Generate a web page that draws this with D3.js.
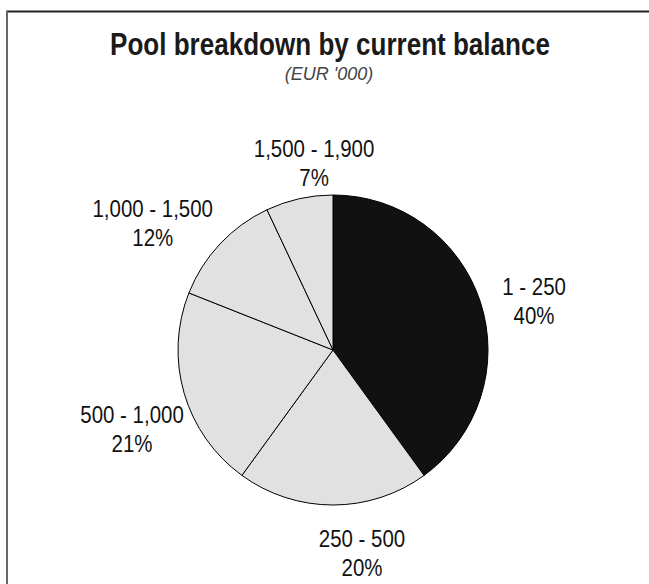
<!DOCTYPE html>
<html>
<head>
<meta charset="utf-8">
<script src="https://cdn.jsdelivr.net/npm/d3@7"></script>
<style>
  html, body { margin: 0; padding: 0; background: #fff; }
  svg { display: block; font-family: "Liberation Sans", Arial, sans-serif; }
</style>
</head>
<body>
<div id="chart"></div>
<script>
(function () {
  // Chart data
  const categories = ["1 - 250", "250 - 500", "500 - 1,000", "1,000 - 1,500", "1,500 - 1,900"];
  const shares = [40, 20, 21, 12, 7];
  const sliceColors = ["#111111", "#e1e1e1", "#e1e1e1", "#e1e1e1", "#e1e1e1"];

  const title = "Pool breakdown by current balance";
  const subtitle = "(EUR '000)";

  // label nudges (px) from the outside-centroid position, as hand-placed in the original
  const labelNudge = [[5, 15], [29, -3], [-3, 21], [-30, 14], [26, 14]];

  const width = 649, height = 584;
  const cx = 333, cy = 350, radius = 155;

  const svg = d3.select("#chart")
      .append("svg")
      .attr("width", width)
      .attr("height", height);

  // squeeze a text element to look like the condensed face of the original
  function condense(sel, factor) {
    sel.each(function () {
      const n = this.getComputedTextLength();
      d3.select(this).attr("textLength", n * factor).attr("lengthAdjust", "spacingAndGlyphs");
    });
  }

  // Frame (runs off the right and bottom edge like the original)
  svg.append("line")
      .attr("x1", 7).attr("y1", 11.5).attr("x2", width).attr("y2", 11.5)
      .attr("stroke", "#222").attr("stroke-width", 2);
  svg.append("line")
      .attr("x1", 7).attr("y1", 10.5).attr("x2", 7).attr("y2", height)
      .attr("stroke", "#666").attr("stroke-width", 2);

  // Title and subtitle
  svg.append("text")
      .attr("x", 330)
      .attr("y", 55)
      .attr("text-anchor", "middle")
      .style("font-size", "31px")
      .style("font-weight", "bold")
      .style("fill", "#1a1a1a")
      .text(title)
      .call(condense, 0.84);

  svg.append("text")
      .attr("x", 329)
      .attr("y", 80)
      .attr("text-anchor", "middle")
      .style("font-size", "18px")
      .style("font-style", "italic")
      .style("fill", "#444")
      .text(subtitle);

  const data = categories.map((c, i) => ({ name: c, value: shares[i], color: sliceColors[i], nudge: labelNudge[i] }));

  const pie = d3.pie().sort(null).value(d => d.value);
  const arc = d3.arc().innerRadius(0).outerRadius(radius);
  const labelArc = d3.arc().innerRadius(radius * 1.33).outerRadius(radius * 1.33);

  const g = svg.append("g").attr("transform", `translate(${cx},${cy})`);

  g.selectAll("path")
      .data(pie(data))
      .join("path")
      .attr("d", arc)
      .attr("fill", d => d.data.color)
      .attr("stroke", "#000")
      .attr("stroke-width", 1);

  // Labels: category on one line, share below
  const labels = g.selectAll("text.label")
      .data(pie(data))
      .join("text")
      .attr("class", "label")
      .attr("text-anchor", "middle")
      .style("font-size", "23.5px")
      .style("fill", "#111")
      .attr("transform", d => {
        const [x, y] = labelArc.centroid(d);
        return `translate(${x + d.data.nudge[0]},${y + d.data.nudge[1]})`;
      });

  labels.append("tspan")
      .attr("x", 0)
      .attr("y", -6)
      .text(d => d.data.name)
      .call(condense, 0.87);

  labels.append("tspan")
      .attr("x", 0)
      .attr("y", 23)
      .text(d => d.data.value + "%")
      .call(condense, 0.87);
})();
</script>
</body>
</html>
